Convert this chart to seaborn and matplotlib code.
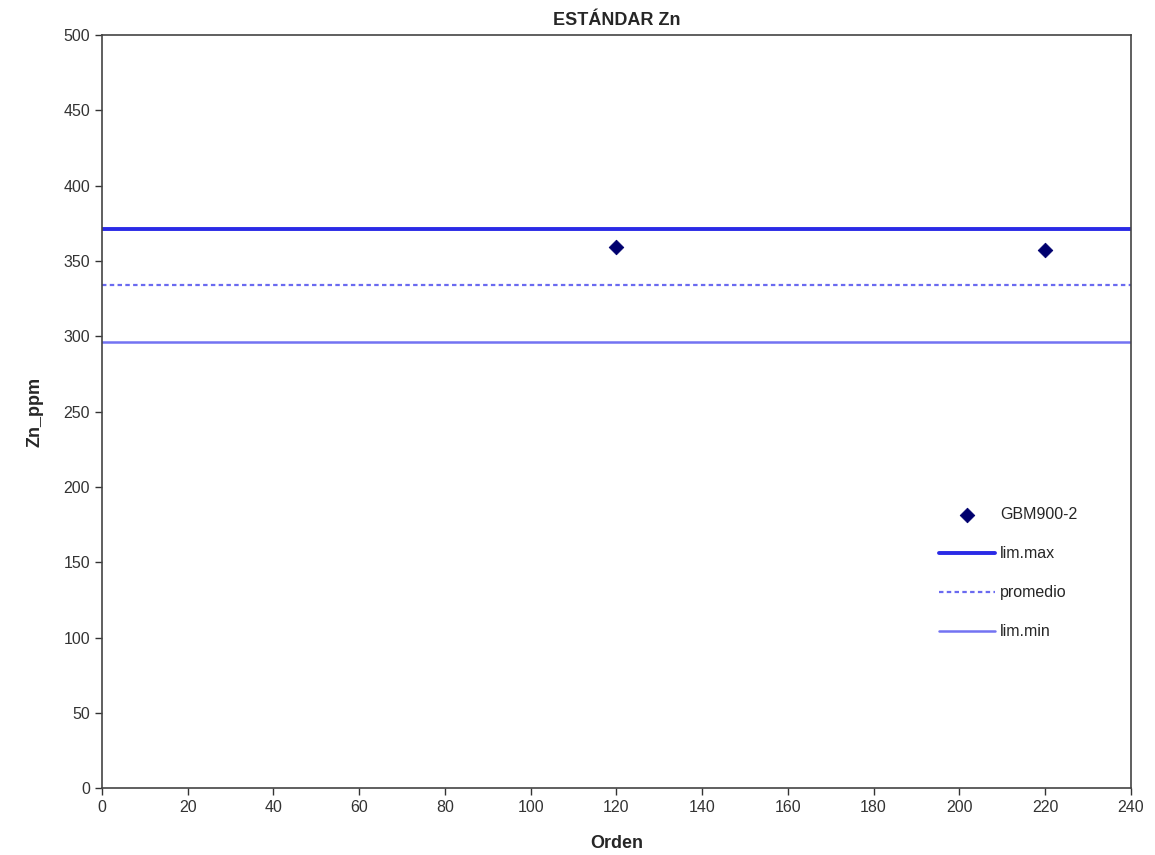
import pandas as pd
import matplotlib
matplotlib.use("agg")
import matplotlib.pyplot as plt
import seaborn as sns

# data
orden = [120, 220]
zn_ppm = [359, 357]
lim_max = 371
promedio = 334
lim_min = 296

df = pd.DataFrame({"Orden": orden, "Zn_ppm": zn_ppm})

sns.set_style("white")
plt.rcParams["font.family"] = ["Liberation Sans", "DejaVu Sans"]

fig, ax = plt.subplots(figsize=(11.55, 8.55), dpi=100)
fig.subplots_adjust(left=0.0883, right=0.979, bottom=0.078, top=0.959)

sns.scatterplot(data=df, x="Orden", y="Zn_ppm", marker="D", s=55,
                color="#00006e", edgecolor="#00006e", label="GBM900-2", ax=ax, zorder=3)
ax.axhline(lim_max, color="#2a2ae6", lw=2.8, label="lim.max")
ax.axhline(promedio, color="#6a6af0", lw=1.6, ls=(0, (2, 1.5)), label="promedio")
ax.axhline(lim_min, color="#7373f2", lw=1.8, label="lim.min")

ax.set_xlim(0, 240)
ax.set_ylim(0, 500)
ax.set_xticks(range(0, 241, 20))
ax.set_yticks(range(0, 501, 50))
ax.tick_params(axis="both", direction="out", length=5, width=1, labelsize=11.5,
               colors="#333333", bottom=True, left=True)
for s in ax.spines.values():
    s.set_color("#444444")
    s.set_linewidth(1.2)

ax.set_title("ESTÁNDAR Zn", fontsize=13, fontweight="bold", pad=7)
ax.set_xlabel("Orden", fontsize=13, fontweight="bold", labelpad=14)
ax.set_ylabel("Zn_ppm", fontsize=13, fontweight="bold", labelpad=14)

ax.legend(loc="upper left", bbox_to_anchor=(0.8, 0.392), frameon=False,
          fontsize=11.5, labelspacing=1.5, handlelength=3.5, handletextpad=0.3,
          markerscale=1.0)

fig.savefig("out.png")
